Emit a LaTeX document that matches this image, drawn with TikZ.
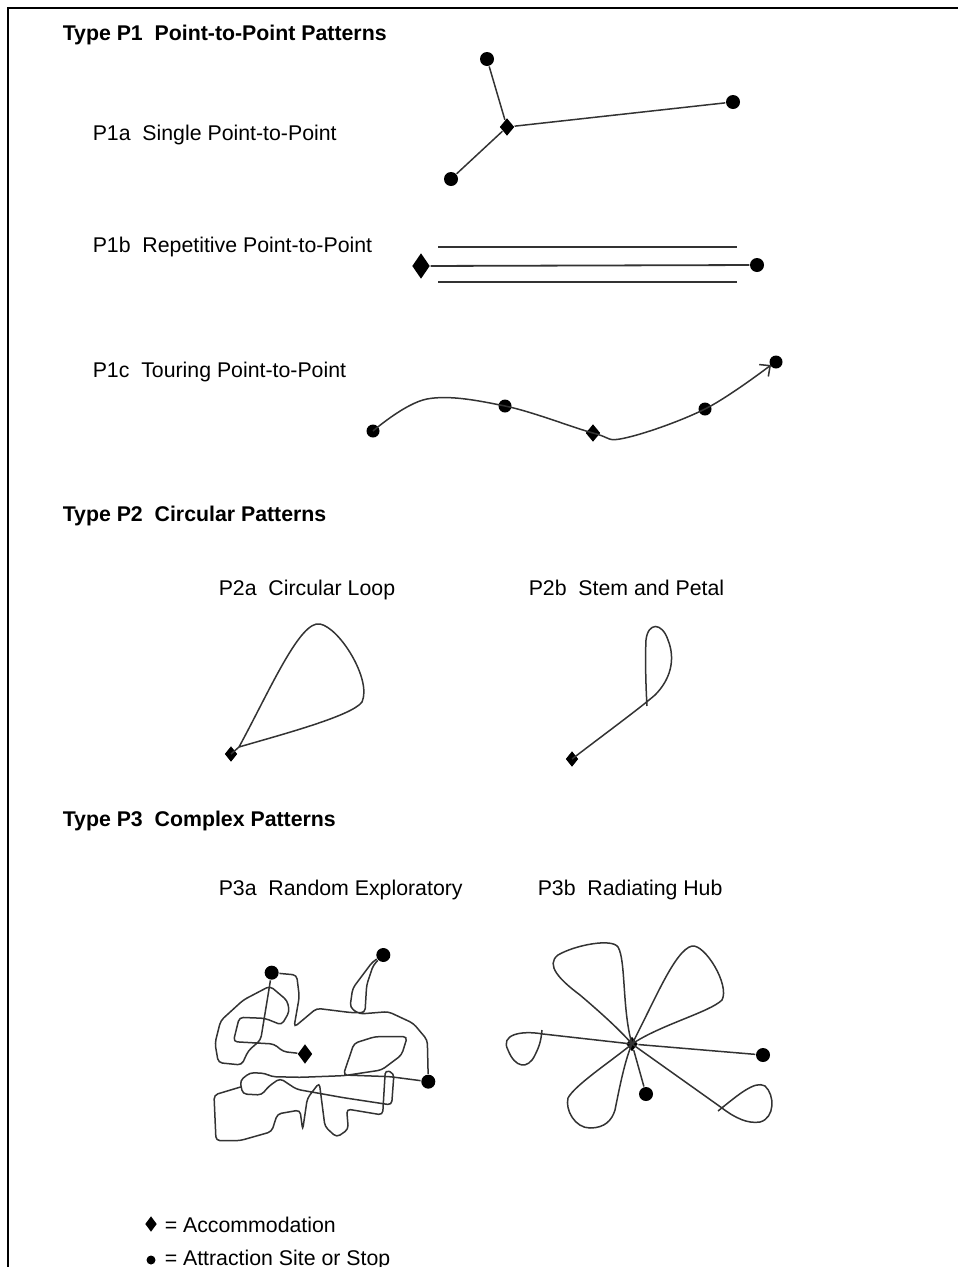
\documentclass[tikz,border=0pt]{standalone}
\usepackage{fontspec}
\setmainfont{Liberation Sans}
\usepackage{tikz}
\usetikzlibrary{arrows.meta,shapes.geometric}

\begin{document}
\begin{tikzpicture}[x=1pt,y=-1pt,line width=1.5pt,draw=black!80,font=\fontsize{21.3}{25}\selectfont]
  \tikzstyle{heading}=[anchor=base west,inner sep=0pt,font=\fontsize{21.3}{25}\selectfont\bfseries]
  \tikzstyle{subtitle}=[anchor=base west,inner sep=0pt]
  \tikzstyle{stop}=[circle,fill=black,draw=none,inner sep=0pt,minimum size=14pt]
  \tikzstyle{accom}=[diamond,fill=black,draw=none,inner sep=0pt,minimum width=15pt,minimum height=18pt]

  \useasboundingbox (0,0) rectangle (958,1267);
  \draw[line width=2.5pt,draw=black] (958,8) -- (8,8) -- (8,1267);

  % titles
  \node[heading]  (tP1)  at (62,40)   {Type P1\ \ Point-to-Point Patterns};
  \node[subtitle] (tP1a) at (92,140)  {P1a\ \ Single Point-to-Point};
  \node[subtitle] (tP1b) at (92,252)  {P1b\ \ Repetitive Point-to-Point};
  \node[subtitle] (tP1c) at (92,377)  {P1c\ \ Touring Point-to-Point};
  \node[heading]  (tP2)  at (62,521)  {Type P2\ \ Circular Patterns};
  \node[subtitle] (tP2a) at (218,595) {P2a\ \ Circular Loop};
  \node[subtitle] (tP2b) at (528,595) {P2b\ \ Stem and Petal};
  \node[heading]  (tP3)  at (62,826)  {Type P3\ \ Complex Patterns};
  \node[subtitle] (tP3a) at (218,895) {P3a\ \ Random Exploratory};
  \node[subtitle] (tP3b) at (537,895) {P3b\ \ Radiating Hub};

  % P1a
  \node[accom] (h1a) at (507,127) {};
  \node[stop] (s1a) at (487,59)  {};
  \node[stop] (s1b) at (451,179) {};
  \node[stop] (s1c) at (733,102) {};
  \path (h1a) edge (s1a) edge (s1b) edge (s1c);

  % P1b
  \node[accom,minimum width=18pt,minimum height=26pt] (h1b) at (421,266) {};
  \node[stop] (s1d) at (757,265) {};
  \coordinate (u1) at (438,247); \coordinate (u2) at (737,247);
  \coordinate (l1) at (438,282); \coordinate (l2) at (737,282);
  \draw[line width=1.8pt] (h1b) -- (s1d);
  \draw[line width=1.8pt] (u1) -- (u2);
  \draw[line width=1.8pt] (l1) -- (l2);

  % P1c
  \node[stop,minimum size=13pt] (s1e) at (373,431) {};
  \node[stop,minimum size=13pt] (s1f) at (505,406) {};
  \node[accom] (h1c) at (593,433) {};
  \node[stop,minimum size=13pt] (s1g) at (705,409) {};
  \node[stop,minimum size=13pt] (s1h) at (776,362) {};
  \draw[-{Straight Barb[length=8pt,width=15pt]}] plot[smooth,tension=0.6] coordinates
    {(373,431) (427,399) (505,406) (593,433) (625,438) (705,409) (771,365)};

  % P2a
  \node[accom,minimum width=13pt,minimum height=16pt] (h2a) at (231,754) {};
  \draw (h2a.center) -- (239,747) .. controls (270,690) and (300,620) .. (320,624)
    .. controls (340,628) and (372,680) .. (362,702)
    .. controls (352,716) and (280,735) .. (239,747);

  % P2b
  \node[accom,minimum width=13pt,minimum height=16pt] (h2b) at (572,759) {};
  \draw (h2b.center) .. controls (610,730) and (640,708) .. (655,695)
    .. controls (670,680) and (676,660) .. (668,640)
    .. controls (662,622) and (648,622) .. (646,640)
    .. controls (645,660) and (646,690) .. (647,706);

  % P3a
  \begin{scope}[shift={(200,930)},x=0.3333pt,y=-0.3333pt]
    \node[accom,minimum width=15pt,minimum height=20pt] (x3d) at (315,372) {};
    \node[stop] (x3a) at (215,128) {};
    \node[stop] (x3b) at (550,75)  {};
    \node[stop] (x3c) at (685,455) {};
    \draw[rounded corners=4pt] (x3d) -- (250,365) -- (222,342) -- (100,335) -- (118,262)
      -- (195,265) -- (245,285) -- (268,245) -- (262,212) -- (210,168) -- (130,210)
      -- (62,272) -- (45,340) -- (55,398) -- (125,405) -- (145,362) -- (182,330)
      -- (205,190) -- (x3a) -- (290,135) -- (298,200) -- (282,292) -- (350,235)
      -- (455,248) -- (495,248) -- (500,165) -- (520,105) -- (x3b) -- (518,95)
      -- (458,175) -- (450,232) -- (478,252) -- (565,245) -- (640,280) -- (682,330)
      -- (x3c) -- (570,440) -- (430,435) -- (462,340) -- (525,320) -- (622,320)
      -- (605,375) -- (545,420) -- (432,437) -- (300,442) -- (215,440) -- (195,430)
      -- (150,428) -- (120,452) -- (128,492) -- (185,495) -- (205,470) -- (240,445)
      -- (290,478) -- (430,503) -- (575,525) -- (582,430) -- (556,420) -- (548,555)
      -- (440,537) -- (445,598) -- (410,622) -- (375,590) -- (358,458) -- (322,505)
      -- (308,600) -- (300,540) -- (232,552) -- (215,605) -- (120,632) -- (48,632)
      -- (42,495) -- (125,470);
  \end{scope}

  % P3b
  \node[accom,minimum width=12pt,minimum height=15pt] (h3b) at (632,1044) {};
  \node[stop] (s3a) at (646,1094) {};
  \node[stop] (s3b) at (763,1055) {};
  \path (h3b) edge (s3a) edge (s3b);
  \draw (h3b.center) .. controls (622,1010) and (626,960) .. (618,947)
    .. controls (612,938) and (575,945) .. (558,955)
    .. controls (545,965) and (560,980) .. (580,995)
    .. controls (600,1012) and (620,1030) .. (h3b.center);
  \draw (h3b.center) .. controls (655,1000) and (675,950) .. (692,946)
    .. controls (705,944) and (730,985) .. (722,1000)
    .. controls (710,1012) and (660,1025) .. (h3b.center);
  \draw (h3b.center) -- (543,1034) .. controls (520,1030) and (500,1035) .. (508,1050)
    .. controls (515,1068) and (528,1070) .. (535,1055)
    .. controls (540,1045) and (541,1040) .. (542,1030);
  \draw (h3b.center) .. controls (610,1062) and (575,1085) .. (568,1098)
    .. controls (565,1110) and (575,1128) .. (590,1128)
    .. controls (605,1128) and (612,1120) .. (615,1110)
    .. controls (620,1085) and (625,1060) .. (h3b.center);
  \draw (h3b.center) -- (722,1108) .. controls (735,1118) and (748,1124) .. (760,1122)
    .. controls (775,1118) and (775,1095) .. (765,1086)
    .. controls (755,1080) and (738,1095) .. (718,1111);

  % legend
  \node[accom,minimum width=12pt,minimum height=16pt] (kh) at (151,1224) {};
  \node[subtitle] (kht) at (164,1232) {= Accommodation};
  \node[stop,minimum size=9pt] (ks) at (151,1260) {};
  \node[subtitle] (kst) at (164,1265) {= Attraction Site or Stop};
\end{tikzpicture}
\end{document}
